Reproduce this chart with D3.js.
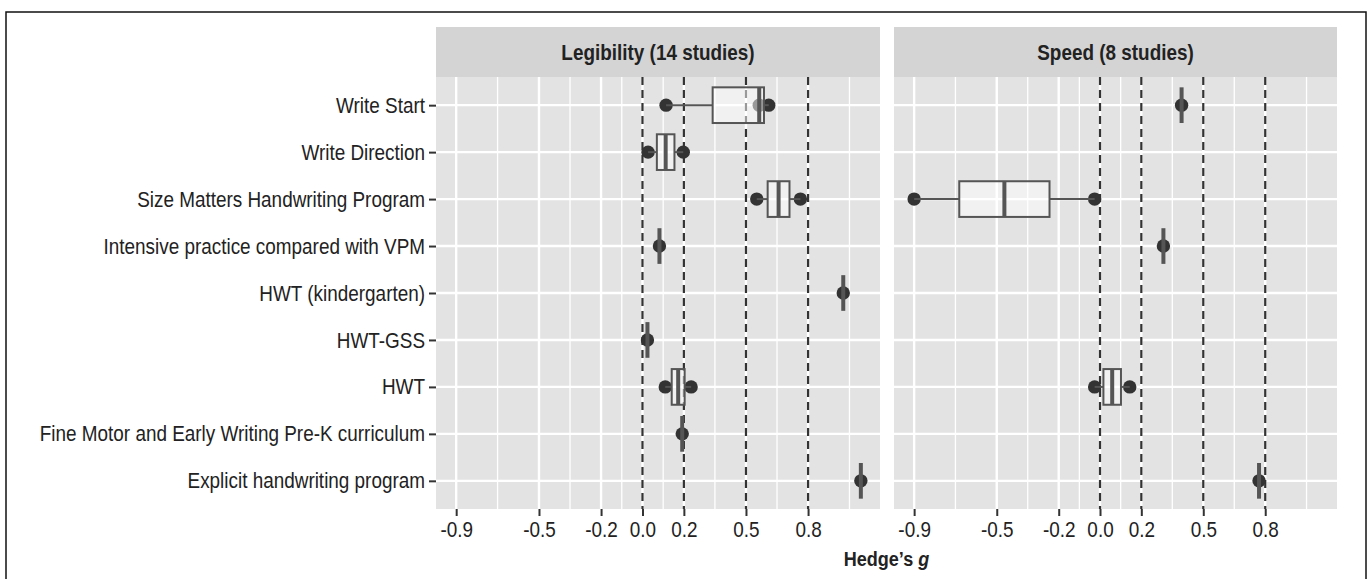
<!DOCTYPE html>
<html>
<head>
<meta charset="utf-8">
<script src="https://cdn.jsdelivr.net/npm/d3@7"></script>
<style>
  body { margin: 0; background: #fff; }
  svg text { font-family: "Liberation Sans", Arial, sans-serif; fill: #222; }
</style>
</head>
<body>
<div id="chart"></div>
<script>
// programmes, top to bottom
const programs = [
  "Write Start",
  "Write Direction",
  "Size Matters Handwriting Program",
  "Intensive practice compared with VPM",
  "HWT (kindergarten)",
  "HWT-GSS",
  "HWT",
  "Fine Motor and Early Writing Pre-K curriculum",
  "Explicit handwriting program"
];

// effect sizes per programme (empty = no study)
const legibility = [
  [0.114, 0.564, 0.61],
  [0.027, 0.197],
  [0.552, 0.763],
  [0.082],
  [0.97],
  [0.024],
  [0.11, 0.235],
  [0.192],
  [1.055]
];
const speed = [
  [0.395],
  [],
  [-0.9, -0.026],
  [0.307],
  [],
  [],
  [-0.026, 0.144],
  [],
  [0.77]
];

const facetTitles = ["Legibility (14 studies)", "Speed (8 studies)"];
const tickValues = [-0.9, -0.5, -0.2, 0.0, 0.2, 0.5, 0.8];
const minorValues = [-0.7, -0.35, -0.1, 0.1, 0.35, 0.65, 1.0];
const refLines = [0.0, 0.2, 0.5, 0.8];

const width = 1372, height = 579;
const panelTop = 77, panelBottom = 509, stripTop = 27;
const panels = [{ x0: 436, x1: 880 }, { x0: 894, x1: 1337 }];
const squeeze = 0.86; // narrow the sans face to look like the condensed original

const svg = d3.select("#chart").append("svg")
  .attr("width", width)
  .attr("height", height);

// outer frame (bottom edge is cut off in the original)
svg.append("rect")
  .attr("x", 6).attr("y", 12)
  .attr("width", 1360).attr("height", 600)
  .attr("fill", "none").attr("stroke", "#111").attr("stroke-width", 1.5);

const y = d3.scalePoint()
  .domain(programs)
  .range([panelTop, panelBottom])
  .padding(0.6);

const boxH = y.step() * 0.76;
const fmt = d3.formatLocale({ decimal: ".", thousands: ",", grouping: [3], currency: ["", ""], minus: "-" }).format(".1f");

function narrow(sel) {
  sel.each(function () {
    const t = d3.select(this);
    const x = +t.attr("x") || 0;
    t.attr("x", x / squeeze).attr("transform", `scale(${squeeze},1)`);
  });
}

// y axis labels (left of first panel only)
const yAxis = svg.append("g")
  .attr("transform", `translate(${panels[0].x0},0)`)
  .call(d3.axisLeft(y).tickSize(7).tickPadding(4));
yAxis.select(".domain").remove();
yAxis.selectAll(".tick line").attr("stroke", "#333").attr("stroke-width", 2);
yAxis.selectAll(".tick text").attr("font-size", 22).attr("fill", "#222").call(narrow);

[legibility, speed].forEach((series, k) => {
  const p = panels[k];
  const x = d3.scaleLinear().domain([-0.9975, 1.1475]).range([p.x0, p.x1]);
  const g = svg.append("g");

  // strip
  g.append("rect")
    .attr("x", p.x0).attr("y", stripTop)
    .attr("width", p.x1 - p.x0).attr("height", panelTop - stripTop)
    .attr("fill", "#d4d4d5");
  g.append("g")
    .attr("transform", `translate(${(p.x0 + p.x1) / 2},${(stripTop + panelTop) / 2})`)
    .append("text")
    .attr("text-anchor", "middle").attr("dominant-baseline", "central")
    .attr("font-size", 22).attr("font-weight", "bold")
    .attr("transform", `scale(${squeeze},1)`)
    .text(facetTitles[k]);

  // panel background and grid
  g.append("rect")
    .attr("x", p.x0).attr("y", panelTop)
    .attr("width", p.x1 - p.x0).attr("height", panelBottom - panelTop)
    .attr("fill", "#e3e3e4");
  g.selectAll(".minor").data(minorValues).join("line")
    .attr("x1", d => x(d)).attr("x2", d => x(d))
    .attr("y1", panelTop).attr("y2", panelBottom)
    .attr("stroke", "#fff").attr("stroke-width", 1.3);
  g.selectAll(".major").data(tickValues).join("line")
    .attr("x1", d => x(d)).attr("x2", d => x(d))
    .attr("y1", panelTop).attr("y2", panelBottom)
    .attr("stroke", "#fff").attr("stroke-width", 2.4);
  g.selectAll(".hgrid").data(programs).join("line")
    .attr("x1", p.x0).attr("x2", p.x1)
    .attr("y1", d => y(d)).attr("y2", d => y(d))
    .attr("stroke", "#fff").attr("stroke-width", 2.4);

  // dashed reference lines
  g.selectAll(".ref").data(refLines).join("line")
    .attr("x1", d => x(d)).attr("x2", d => x(d))
    .attr("y1", panelTop).attr("y2", panelBottom)
    .attr("stroke", "#333").attr("stroke-width", 2.2)
    .attr("stroke-dasharray", "8,5");

  const rows = programs.map((name, i) => ({ name, vals: series[i].slice().sort(d3.ascending) }))
    .filter(r => r.vals.length);

  // points under the boxes
  rows.forEach(r => {
    g.selectAll(null).data(r.vals).join("circle")
      .attr("cx", d => x(d)).attr("cy", y(r.name))
      .attr("r", 6.7).attr("fill", "#333");
  });

  // boxplots
  rows.forEach(r => {
    const v = r.vals;
    const q1 = d3.quantile(v, 0.25), med = d3.quantile(v, 0.5), q3 = d3.quantile(v, 0.75);
    const iqr = q3 - q1;
    const lo = d3.min(v.filter(d => d >= q1 - 1.5 * iqr));
    const hi = d3.max(v.filter(d => d <= q3 + 1.5 * iqr));
    const cy = y(r.name);
    const b = g.append("g");
    b.append("line").attr("x1", x(lo)).attr("x2", x(q1)).attr("y1", cy).attr("y2", cy)
      .attr("stroke", "#555").attr("stroke-width", 2);
    b.append("line").attr("x1", x(q3)).attr("x2", x(hi)).attr("y1", cy).attr("y2", cy)
      .attr("stroke", "#555").attr("stroke-width", 2);
    b.append("rect")
      .attr("x", x(q1)).attr("y", cy - boxH / 2)
      .attr("width", x(q3) - x(q1)).attr("height", boxH)
      .attr("fill", "rgba(255,255,255,0.5)")
      .attr("stroke", "#555").attr("stroke-width", 2);
    b.append("line").attr("x1", x(med)).attr("x2", x(med))
      .attr("y1", cy - boxH / 2).attr("y2", cy + boxH / 2)
      .attr("stroke", "#555").attr("stroke-width", 4);
  });

  // x axis
  const xAxis = svg.append("g")
    .attr("transform", `translate(0,${panelBottom})`)
    .call(d3.axisBottom(x).tickValues(tickValues).tickFormat(fmt).tickSize(7).tickPadding(5));
  xAxis.select(".domain").remove();
  xAxis.selectAll(".tick line").attr("stroke", "#333").attr("stroke-width", 2);
  xAxis.selectAll(".tick text").attr("font-size", 22).attr("fill", "#222").call(narrow);
});

// axis title
const title = svg.append("g")
  .attr("transform", `translate(${(panels[0].x0 + panels[1].x1) / 2},566)`)
  .append("text")
  .attr("text-anchor", "middle")
  .attr("transform", `scale(${squeeze},1)`)
  .attr("font-size", 21).attr("font-weight", "bold");
title.append("tspan").text("Hedge\u2019s ");
title.append("tspan").attr("font-style", "italic").text("g");
</script>
</body>
</html>
